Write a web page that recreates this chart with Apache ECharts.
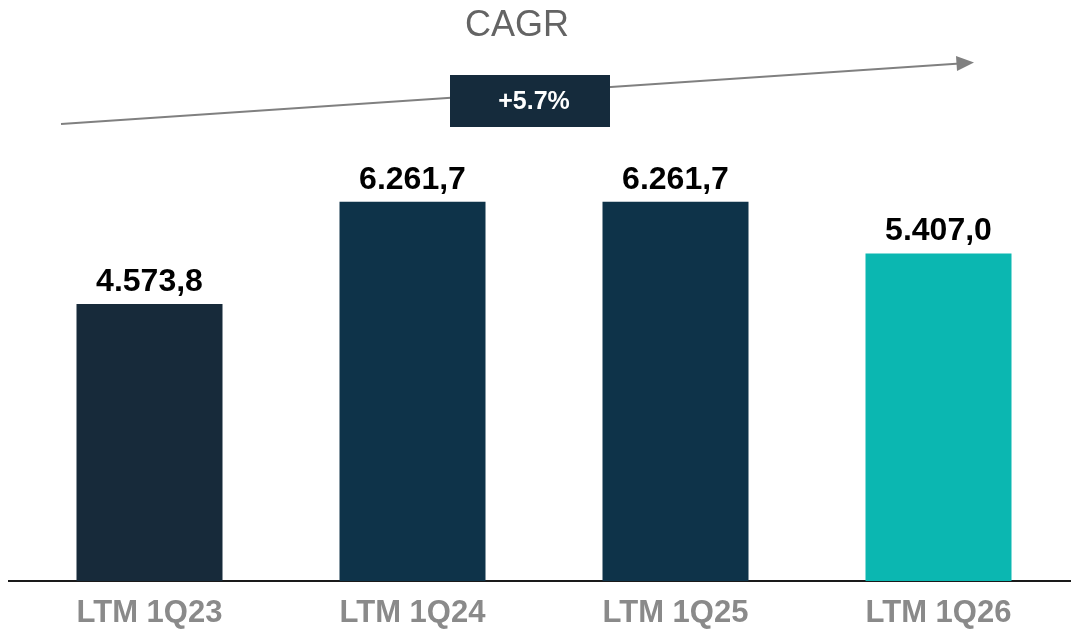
<!DOCTYPE html>
<html>
<head>
<meta charset="utf-8">
<script src="https://cdn.jsdelivr.net/npm/echarts@6/dist/echarts.min.js"></script>
<style>
  html, body { margin: 0; padding: 0; background: #fff; }
  #chart { width: 1071px; height: 629px; }
</style>
</head>
<body>
<div id="chart"></div>
<script>
const categories = ['LTM 1Q23', 'LTM 1Q24', 'LTM 1Q25', 'LTM 1Q26'];
const values = [4573.8, 6261.7, 6261.7, 5407.0];
const barColors = ['#172A3A', '#0E3349', '#0E3349', '#0BB7B1'];
const cagrText = '+5.7%';

// 4573.8 -> "4.573,8"
const formatValue = (v) => {
  const parts = v.toFixed(1).split('.');
  return parts[0].replace(/\B(?=(\d{3})+(?!\d))/g, '.') + ',' + parts[1];
};

const chart = echarts.init(document.getElementById('chart'), null, { renderer: 'canvas' });

chart.setOption({
  animation: false,
  grid: { left: 18, right: 1, top: 157, bottom: 48 },
  xAxis: {
    type: 'category',
    data: categories,
    axisLine: { show: false },
    axisTick: { show: false },
    axisLabel: {
      margin: 17,
      color: '#8A8A8A',
      fontSize: 31,
      fontWeight: 'bold',
      fontFamily: '"Liberation Sans", Arial, sans-serif'
    }
  },
  yAxis: {
    type: 'value',
    min: 0,
    max: 7000,
    show: false,
    splitLine: { show: false }
  },
  series: [{
    type: 'bar',
    barWidth: 146,
    data: values.map((v, i) => ({ value: v, itemStyle: { color: barColors[i] } })),
    label: {
      show: true,
      position: 'top',
      distance: 6,
      color: '#000',
      fontSize: 32,
      fontWeight: 'bold',
      fontFamily: '"Liberation Sans", Arial, sans-serif',
      formatter: (p) => formatValue(p.value)
    }
  }],
  graphic: [
    // baseline
    { type: 'line', shape: { x1: 8, y1: 581, x2: 1071, y2: 581 }, style: { stroke: '#1a1a1a', lineWidth: 2 } },
    // CAGR title
    {
      type: 'text', x: 517, y: 26,
      style: {
        text: 'CAGR', fill: '#646464', align: 'center', verticalAlign: 'middle',
        font: '36px "Liberation Sans", Arial, sans-serif'
      }
    },
    // arrow
    { type: 'line', shape: { x1: 61, y1: 124, x2: 960, y2: 63.5 }, style: { stroke: '#808080', lineWidth: 2 } },
    { type: 'polygon', shape: { points: [[956, 56], [974, 62.5], [957, 71]] }, style: { fill: '#808080' } },
    // CAGR box
    { type: 'rect', shape: { x: 450, y: 75, width: 160, height: 52 }, style: { fill: '#152B3C' }, z: 10 },
    {
      type: 'text', x: 534, y: 102, z: 11,
      style: {
        text: cagrText, fill: '#fff', align: 'center', verticalAlign: 'middle',
        font: 'bold 25px "Liberation Sans", Arial, sans-serif'
      }
    }
  ]
});
</script>
</body>
</html>
